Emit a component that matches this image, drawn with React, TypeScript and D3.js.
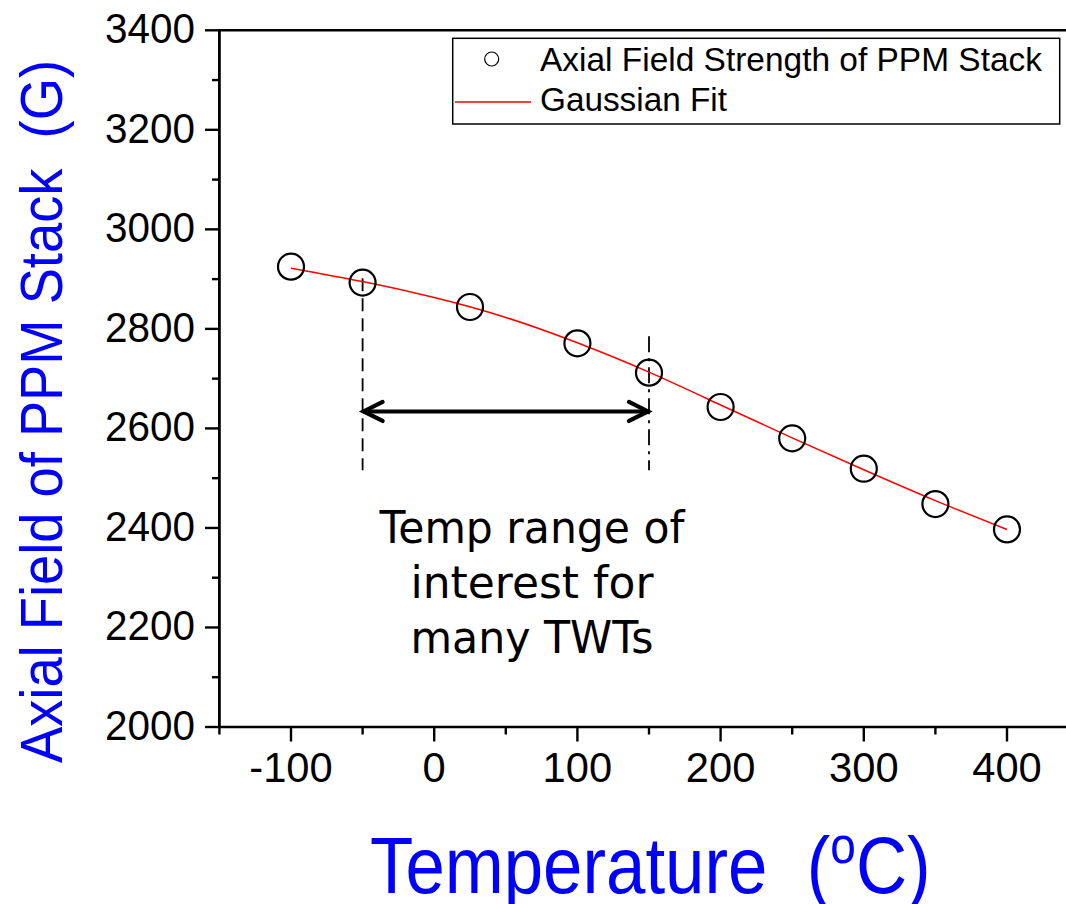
import React from "react";
import * as d3 from "d3";

const temps = [-100, -50, 25, 100, 150, 200, 250, 300, 350, 400];
const fieldG = [2925, 2893, 2844, 2771, 2712, 2643, 2580, 2519, 2448, 2397];

const fitTemps = [-100, -50, 0, 50, 100, 150, 200, 250, 300, 350, 400];
const fitG = [2922, 2895, 2863, 2823, 2772, 2713, 2647, 2581, 2517, 2455, 2397];

const xMajorTicks = [-100, 0, 100, 200, 300, 400];
const xMinorTicks = [-150, -50, 50, 150, 250, 350];
const yMajorTicks = [2000, 2200, 2400, 2600, 2800, 3000, 3200, 3400];
const yMinorTicks = [2100, 2300, 2500, 2700, 2900, 3100, 3300];

const legendLabels = ["Axial Field Strength of PPM Stack", "Gaussian Fit"];
const noteLines = ["Temp range of", "interest for", "many TWTs"];
const rangeStart = -50;
const rangeEnd = 150;
const arrowG = 2634;
const leftLineTopG = 2902;
const rightLineTopG = 2785;
const lineBottomG = 2516;

const W = 1066;
const H = 904;

export default function App() {
  const x = d3.scaleLinear().domain([-150, 450]).range([219.4, 1078.6]);
  const y = d3.scaleLinear().domain([2000, 3400]).range([727, 30.3]);

  const fitLine = d3
    .line<number>()
    .x((_, i) => x(fitTemps[i]))
    .y((d) => y(d))
    .curve(d3.curveNatural);

  const tickFont = "'Liberation Sans', Arial, sans-serif";
  const digitW = (s: string, fs: number) => {
    let w = 0;
    for (const c of s) w += c === "-" ? 0.333 : 0.556;
    return w * fs;
  };

  const xl = x(rangeStart);
  const xr = x(rangeEnd);
  const ay = y(arrowG);

  return (
    <svg
      width={W}
      height={H}
      style={{ position: "absolute", left: 0, top: 0, background: "#fff" }}
    >
      <rect x={0} y={0} width={W} height={H} fill="#fff" />
      {/* axes */}
      <line x1={x(-150)} x2={x(450)} y1={y(2000)} y2={y(2000)} stroke="#000" strokeWidth={2.6} />
      <line x1={x(-150)} x2={x(450)} y1={y(3400)} y2={y(3400)} stroke="#000" strokeWidth={2.6} />
      <line x1={x(-150)} x2={x(-150)} y1={y(3400) - 1.3} y2={y(2000)} stroke="#000" strokeWidth={2.8} />

      {yMajorTicks.map((v) => (
        <g key={"ym" + v}>
          <line x1={205} x2={x(-150)} y1={y(v)} y2={y(v)} stroke="#000" strokeWidth={2.4} />
          <text
            x={195}
            y={y(v) + 13}
            textAnchor="end"
            fontFamily={tickFont}
            fontSize={43}
            textLength={90}
            lengthAdjust="spacingAndGlyphs"
          >
            {v}
          </text>
        </g>
      ))}
      {yMinorTicks.map((v) => (
        <line key={"yn" + v} x1={212} x2={x(-150)} y1={y(v)} y2={y(v)} stroke="#000" strokeWidth={2.4} />
      ))}
      {xMajorTicks.map((v) => {
        const s = String(v);
        return (
          <g key={"xm" + v}>
            <line x1={x(v)} x2={x(v)} y1={y(2000)} y2={y(2000) + 14.5} stroke="#000" strokeWidth={2.4} />
            <text
              x={x(v)}
              y={782}
              textAnchor="middle"
              fontFamily={tickFont}
              fontSize={43}
              textLength={digitW(s, 43) * 0.97}
              lengthAdjust="spacingAndGlyphs"
            >
              {s}
            </text>
          </g>
        );
      })}
      {xMinorTicks.map((v) => (
        <line key={"xn" + v} x1={x(v)} x2={x(v)} y1={y(2000)} y2={y(2000) + 7.5} stroke="#000" strokeWidth={2.4} />
      ))}

      {/* axis titles */}
      <text
        transform={`translate(62,763) rotate(-90)`}
        fontFamily={tickFont}
        fontSize={60}
        fill="#0000ff"
        textLength={703}
        lengthAdjust="spacingAndGlyphs"
        xmlSpace="preserve"
        style={{ whiteSpace: "pre" }}
      >
        {"Axial Field of PPM Stack  (G)"}
      </text>
      <g transform="translate(370,893) scale(0.885,1)">
        <text x={0} y={0} fontFamily={tickFont} fontSize={80} fill="#0000ff" xmlSpace="preserve" style={{ whiteSpace: "pre" }}>
          <tspan>{"Temperature  ("}</tspan>
          <tspan fontSize={52} dy={-30}>o</tspan>
          <tspan dy={30}>C)</tspan>
        </text>
      </g>

      {/* annotations */}
      <line x1={xl} x2={xl} y1={y(leftLineTopG)} y2={y(lineBottomG)} stroke="#000" strokeWidth={1.8} strokeDasharray="13,7" />
      <line x1={xr} x2={xr} y1={y(rightLineTopG)} y2={y(lineBottomG)} stroke="#000" strokeWidth={1.8} strokeDasharray="16,6,3,6" />
      <g stroke="#000" strokeWidth={4.2} strokeLinecap="round" fill="none">
        <line x1={xl + 2} x2={xr - 2} y1={ay} y2={ay} />
        <polyline points={`${xl + 20},${ay - 9.5} ${xl + 1},${ay} ${xl + 20},${ay + 9.5}`} strokeLinejoin="miter" />
        <polyline points={`${xr - 20},${ay - 9.5} ${xr - 1},${ay} ${xr - 20},${ay + 9.5}`} strokeLinejoin="miter" />
      </g>
      {noteLines.map((t, i) => (
        <text
          key={t}
          x={532}
          y={543 + i * 55}
          textAnchor="middle"
          fontFamily="'DejaVu Sans', Verdana, sans-serif"
          fontSize={45}
          textLength={i === 0 ? 305 : 243}
          lengthAdjust="spacingAndGlyphs"
        >
          {t}
        </text>
      ))}

      {/* fit curve */}
      <path d={fitLine(fitG) || ""} fill="none" stroke="#ff0000" strokeWidth={1.5} />
      {/* data points */}
      {temps.map((t, i) => (
        <circle key={t} cx={x(t)} cy={y(fieldG[i])} r={13} fill="none" stroke="#000" strokeWidth={2.2} />
      ))}

      {/* legend */}
      <rect x={452.7} y={38.3} width={607} height={85.7} fill="#fff" stroke="#000" strokeWidth={1.5} />
      <circle cx={491.7} cy={59} r={7} fill="none" stroke="#000" strokeWidth={1.2} />
      <line x1={455} x2={531} y1={102} y2={102} stroke="#ff0000" strokeWidth={1.5} />
      <text x={540} y={71} fontFamily={tickFont} fontSize={33} textLength={502} lengthAdjust="spacingAndGlyphs">
        {legendLabels[0]}
      </text>
      <text x={540} y={111} fontFamily={tickFont} fontSize={33} textLength={187} lengthAdjust="spacingAndGlyphs">
        {legendLabels[1]}
      </text>
    </svg>
  );
}
